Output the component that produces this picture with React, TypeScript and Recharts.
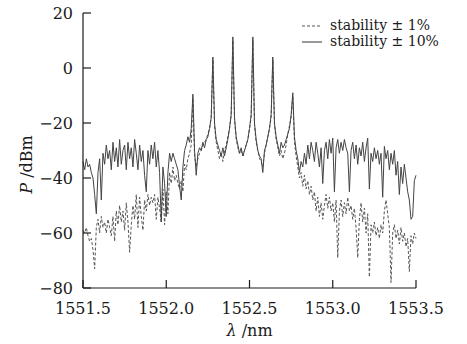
import { LineChart, Line, XAxis, YAxis, Legend } from "recharts";

// wavelength grid (nm)
const wavelength = [
  1551.5, 1551.51, 1551.52, 1551.53, 1551.54, 1551.55, 1551.56, 1551.57, 1551.58, 1551.59,
  1551.6, 1551.61, 1551.62, 1551.63, 1551.64, 1551.65, 1551.66, 1551.67, 1551.68, 1551.69,
  1551.7, 1551.71, 1551.72, 1551.73, 1551.74, 1551.75, 1551.76, 1551.77, 1551.78, 1551.79,
  1551.8, 1551.81, 1551.82, 1551.83, 1551.84, 1551.85, 1551.86, 1551.87, 1551.88, 1551.89,
  1551.9, 1551.91, 1551.92, 1551.93, 1551.94, 1551.95, 1551.96, 1551.97, 1551.98, 1551.99,
  1552.0, 1552.01, 1552.02, 1552.03, 1552.04, 1552.05, 1552.06, 1552.07, 1552.08, 1552.09,
  1552.1, 1552.11, 1552.12, 1552.13, 1552.14, 1552.15, 1552.16, 1552.17, 1552.18, 1552.19,
  1552.2, 1552.21, 1552.22, 1552.23, 1552.24, 1552.25, 1552.26, 1552.27, 1552.28, 1552.29,
  1552.3, 1552.31, 1552.32, 1552.33, 1552.34, 1552.35, 1552.36, 1552.37, 1552.38, 1552.39,
  1552.4, 1552.41, 1552.42, 1552.43, 1552.44, 1552.45, 1552.46, 1552.47, 1552.48, 1552.49,
  1552.5, 1552.51, 1552.52, 1552.53, 1552.54, 1552.55, 1552.56, 1552.57, 1552.58, 1552.59,
  1552.6, 1552.61, 1552.62, 1552.63, 1552.64, 1552.65, 1552.66, 1552.67, 1552.68, 1552.69,
  1552.7, 1552.71, 1552.72, 1552.73, 1552.74, 1552.75, 1552.76, 1552.77, 1552.78, 1552.79,
  1552.8, 1552.81, 1552.82, 1552.83, 1552.84, 1552.85, 1552.86, 1552.87, 1552.88, 1552.89,
  1552.9, 1552.91, 1552.92, 1552.93, 1552.94, 1552.95, 1552.96, 1552.97, 1552.98, 1552.99,
  1553.0, 1553.01, 1553.02, 1553.03, 1553.04, 1553.05, 1553.06, 1553.07, 1553.08, 1553.09,
  1553.1, 1553.11, 1553.12, 1553.13, 1553.14, 1553.15, 1553.16, 1553.17, 1553.18, 1553.19,
  1553.2, 1553.21, 1553.22, 1553.23, 1553.24, 1553.25, 1553.26, 1553.27, 1553.28, 1553.29,
  1553.3, 1553.31, 1553.32, 1553.33, 1553.34, 1553.35, 1553.36, 1553.37, 1553.38, 1553.39,
  1553.4, 1553.41, 1553.42, 1553.43, 1553.44, 1553.45, 1553.46, 1553.47, 1553.48, 1553.49,
  1553.5,
];

// stability ±10% (solid)
const stab10 = [
  -34, -37, -33, -36, -35, -38, -40, -46, -53, -38,
  -33, -48, -31, -35, -28, -33, -30, -37, -27, -34,
  -29, -36, -26, -35, -30, -28, -37, -27, -33, -29,
  -36, -26, -31, -37, -28, -34, -30, -39, -45, -30,
  -35, -28, -33, -27, -36, -30, -38, -56, -36, -42,
  -54, -38, -31, -34, -31, -33, -35, -37, -43, -48,
  -36, -30, -28, -25, -27, -22, -9.5, -30, -39, -31,
  -29, -30, -27, -29, -26, -25, -22, -18, 4, -20,
  -26, -28, -30, -32, -29, -32, -29, -26, -22, -17,
  11.3, -18, -25, -28, -31, -29, -32, -30, -28, -26,
  -22, -17, 11.3, -20, -26, -30, -32, -33, -38, -30,
  -28, -25, -22, -17, 4, -20, -25, -28, -31, -27,
  -29, -28, -26, -24, -22, -17, -9, -25, -30, -33,
  -38, -34, -36, -31, -35, -28, -33, -27, -30, -34,
  -27, -31, -36, -29, -42, -30, -27, -33, -26, -31,
  -25.5, -45, -29, -26, -31, -27, -30, -26, -29, -31,
  -45, -30, -27, -33, -28, -35, -29, -32, -27, -34,
  -29, -25.5, -44, -31, -34, -29, -33, -30, -35, -31,
  -47, -28.5, -33, -30, -37, -31, -35, -30, -39, -34,
  -46, -36, -42, -35, -40, -45, -48, -55, -54, -41,
  -39,
];

// stability ±1% (dashed)
const stab1 = [
  -59, -60, -58, -61, -63, -62, -66, -73, -58, -55,
  -60, -54, -58, -56, -60, -55, -58, -61, -54, -63,
  -52, -57, -50, -56, -52, -59, -49, -56, -67, -57,
  -50, -55, -46, -58, -47, -54, -59, -48, -52, -46,
  -50, -47, -49, -46, -55, -47, -51, -56, -44, -57,
  -45, -53, -38, -42, -36, -41, -39, -42, -44, -41,
  -45, -35, -37, -33, -31, -28, -11, -32, -36, -33,
  -31, -30, -28, -27, -26, -24, -22, -18, 3, -21,
  -27, -30, -33, -31, -34, -30, -28, -25, -22, -17,
  10, -19, -26, -29, -31, -30, -32, -30, -28, -26,
  -22, -18, 10, -21, -27, -30, -33, -34, -36, -31,
  -28, -25, -22, -18, 3, -21, -26, -29, -32, -30,
  -33, -31, -28, -24, -21, -18, -10, -27, -32, -36,
  -40, -38, -43, -39, -44, -41, -46, -43, -48, -45,
  -52, -47, -54, -49, -55, -50, -46, -51, -47, -52,
  -49, -56, -48, -69, -52, -48, -54, -49, -53, -47,
  -52, -50, -55, -51, -58, -69, -55, -49, -56, -51,
  -60, -53, -76, -57, -60, -56, -61, -58, -62, -57,
  -60, -52, -48, -53, -58, -78, -60, -57, -62, -59,
  -64, -58, -63, -60, -65, -62, -74, -61, -64, -60,
  -62,
];

const xTicks = [1551.5, 1552.0, 1552.5, 1553.0, 1553.5];
const yTicks = [-80, -60, -40, -20, 0, 20];

const data = wavelength.map((w, i) => ({ w, s1: stab1[i], s10: stab10[i] }));

const FONT = "'DejaVu Serif', serif";
const INK = "#1a1a1a";
const X_MARGIN = 15;
const Y_MARGIN = 10;

const XTick = ({ x, y, payload }: any) => {
  const axisY = y - X_MARGIN;
  return (
    <g>
      <line x1={x} x2={x} y1={axisY} y2={axisY - 8} stroke={INK} strokeWidth={1.2} />
      <text x={x} y={y} dy="0.71em" textAnchor="middle" fontFamily={FONT} fontSize={16} fill={INK}>
        {Number(payload.value).toFixed(1)}
      </text>
    </g>
  );
};

const YTick = ({ x, y, payload }: any) => {
  const axisX = x + Y_MARGIN;
  return (
    <g>
      <line x1={axisX} x2={axisX + 8} y1={y} y2={y} stroke={INK} strokeWidth={1.2} />
      <text x={x} y={y} dy="0.355em" textAnchor="end" fontFamily={FONT} fontSize={16} fill={INK}>
        {String(payload.value).replace("-", "\u2212")}
      </text>
    </g>
  );
};

const XTitle = ({ viewBox }: any) => (
  <text x={viewBox.x + viewBox.width / 2} y={viewBox.y + 48} textAnchor="middle" fontFamily={FONT} fontSize={16} fill={INK}>
    <tspan fontStyle="italic">λ</tspan> /nm
  </text>
);

const YTitle = ({ viewBox }: any) => {
  const cx = 26;
  const cy = viewBox.y + viewBox.height / 2 + 14;
  return (
    <text x={cx} y={cy} transform={`rotate(-90 ${cx} ${cy})`} dy="0.355em" textAnchor="middle" fontFamily={FONT} fontSize={16} fill={INK}>
      <tspan fontStyle="italic">P</tspan> /dBm
    </text>
  );
};

// legend rows are packed tight, like the original figure
const LegendBox = () => (
  <svg width={170} height={44}>
    <line x1={7} x2={26} y1={11} y2={11} stroke="#555" strokeWidth={1} strokeDasharray="3 2" />
    <text x={35} y={15} fontFamily={FONT} fontSize={14} fill={INK}>stability ± 1%</text>
    <line x1={7} x2={27} y1={27} y2={27} stroke="#333" strokeWidth={1} />
    <text x={35} y={31} fontFamily={FONT} fontSize={14} fill={INK}>stability ± 10%</text>
  </svg>
);

export default function App() {
  return (
    <div style={{ position: "absolute", left: 0, top: 0, width: 467, height: 344, background: "#fff" }}>
      <LineChart width={467} height={344} data={data} margin={{ top: 13, right: 51, left: 0, bottom: 0 }}>
        <XAxis
          dataKey="w"
          type="number"
          domain={[1551.5, 1553.5]}
          ticks={xTicks}
          interval={0}
          height={56}
          tickSize={0}
          tickMargin={X_MARGIN}
          tickLine={false}
          axisLine={{ stroke: INK, strokeWidth: 1.2 }}
          tick={<XTick />}
          label={{ content: <XTitle /> } as any}
        />
        <YAxis
          type="number"
          domain={[-80, 20]}
          ticks={yTicks}
          interval={0}
          width={83}
          tickSize={0}
          tickMargin={Y_MARGIN}
          tickLine={false}
          axisLine={{ stroke: INK, strokeWidth: 1.2 }}
          tick={<YTick />}
          label={{ content: <YTitle /> } as any}
        />
        <Legend
          layout="horizontal"
          verticalAlign="middle"
          content={<LegendBox />}
          wrapperStyle={{ top: 15, left: 295, width: 170, height: 44 }}
        />
        <Line
          dataKey="s1"
          name="stability ± 1%"
          stroke="#555"
          strokeWidth={1}
          strokeDasharray="3 2"
          dot={false}
          isAnimationActive={false}
        />
        <Line
          dataKey="s10"
          name="stability ± 10%"
          stroke="#444"
          strokeWidth={1}
          dot={false}
          isAnimationActive={false}
        />
      </LineChart>
    </div>
  );
}
